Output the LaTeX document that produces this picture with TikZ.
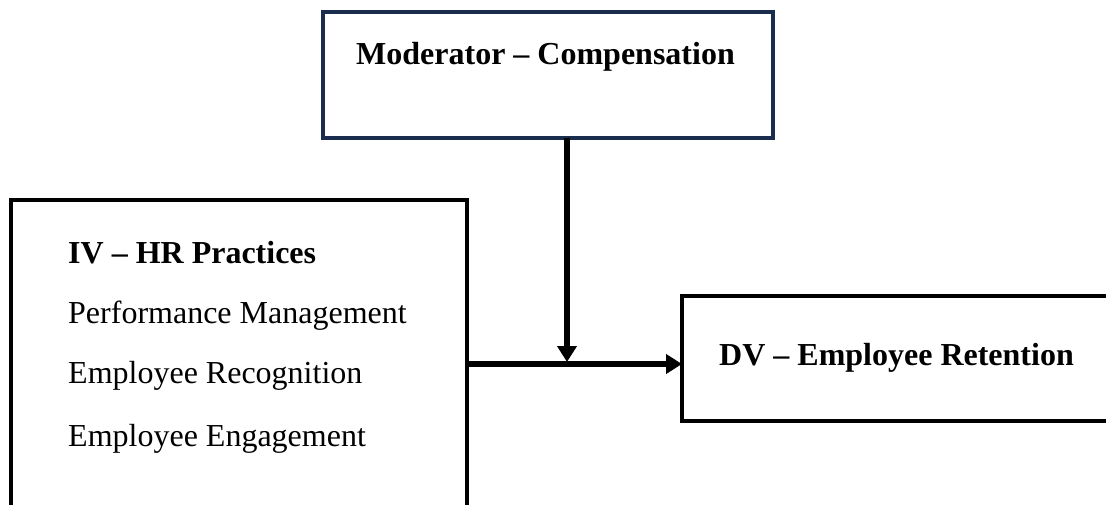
\documentclass[tikz,border=0pt]{standalone}
\usepackage{fontspec}
\setmainfont{Liberation Serif}
\usetikzlibrary{arrows.meta}
\definecolor{navy}{HTML}{1B2D4F}
\tikzset{
  box/.style={draw, line width=4pt, rectangle, inner sep=0pt, outer sep=0pt, anchor=north west},
  lbl/.style={anchor=base west, inner sep=0pt, font=\fontsize{32}{38}\selectfont},
  conn/.style={line width=6pt, -{Triangle[length=16pt,width=19pt]}},
}
\begin{document}
\begin{tikzpicture}[x=1pt,y=-1pt]
\useasboundingbox (0,0) rectangle (1106,504);
\clip (0,0) rectangle (1106,504);
% boxes
\node[box, draw=navy, minimum width=450pt, minimum height=126pt] (mod) at (323,12) {};
\node[box, minimum width=456pt, minimum height=340pt] (iv) at (11,200) {};
\node[box, minimum width=440pt, minimum height=125pt] (dv) at (682,296) {};
% texts
\node[lbl, font=\fontsize{32}{38}\selectfont\bfseries] (tmod) at (356,64) {Moderator – Compensation};
\node[lbl, font=\fontsize{32}{38}\selectfont\bfseries] (tiv) at (68,263) {IV – HR Practices};
\node[lbl] (t1) at (68,323) {Performance Management};
\node[lbl] (t2) at (68,383) {Employee Recognition};
\node[lbl] (t3) at (68,446) {Employee Engagement};
\node[lbl, font=\fontsize{32}{38}\selectfont\bfseries] (tdv) at (719,365) {DV – Employee Retention};
% connectors
\coordinate (j) at (567,364);
\draw[conn] (iv.east |- j) -- (dv.west |- j);
\draw[conn] (mod.south -| j) -- ([yshift=2pt]j);
\end{tikzpicture}
\end{document}
